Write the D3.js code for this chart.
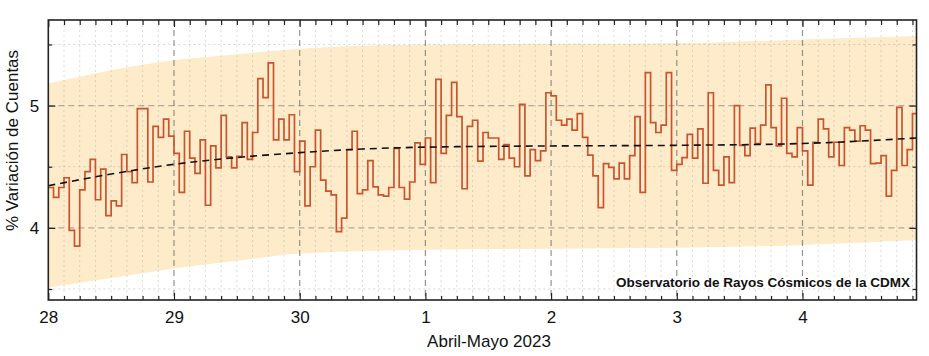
<!DOCTYPE html>
<html><head><meta charset="utf-8">
<script src="https://cdn.jsdelivr.net/npm/d3@7"></script>
<style>
body{margin:0;background:#fff;}
svg{display:block;font-family:"Liberation Sans",Arial,sans-serif;}
</style>
</head><body>
<svg id="c" width="929" height="356"></svg>
<script>
// ---- data ----
const startDate = Date.UTC(2023, 3, 28, 0, 0);   // 28 Abril 2023 00:00
const hourMs = 3600e3;
const endHours = 165.77;                          // visible extent of time axis (hours)
const xTitle = "Abril-Mayo 2023";
const yTitle = "% Variación de Cuentas";
const note = "Observatorio de Rayos Cósmicos de la CDMX";
const yMajorTicks = [4, 5];
const yMinorTicks = [3.5, 4.5, 5.5];

// hourly values (% variación)
const counts = [
  4.33,4.25,4.33,4.41,3.98,3.85,4.31,4.46,4.56,4.23,4.48,4.10,
  4.22,4.18,4.60,4.46,4.37,4.975,4.975,4.375,4.83,4.74,4.89,4.75,
  4.61,4.29,4.79,4.57,4.445,4.72,4.185,4.67,4.49,4.92,4.58,4.49,
  4.585,4.86,4.56,4.78,5.22,5.065,5.35,4.72,4.89,4.72,4.925,4.46,
  4.71,4.18,4.50,4.80,4.39,4.30,4.27,3.97,4.08,4.64,4.79,4.28,
  4.31,4.55,4.335,4.27,4.26,4.33,4.65,4.33,4.235,4.375,4.695,4.52,
  4.735,4.37,5.215,4.61,4.92,5.19,4.91,4.32,4.83,4.88,4.545,4.78,
  4.735,4.735,4.56,4.68,4.57,4.50,5.01,4.425,4.64,4.55,4.63,5.105,
  5.08,4.88,4.84,4.89,4.80,4.935,4.74,4.595,4.425,4.165,4.525,4.495,
  4.40,4.53,4.40,4.59,4.91,4.29,5.27,4.86,4.78,4.84,5.27,4.47,
  4.52,4.575,4.765,4.57,4.81,4.365,5.105,4.47,4.35,4.58,4.37,5.0,
  4.675,4.59,4.815,4.69,4.84,5.17,4.82,4.67,5.06,4.61,4.58,4.82,
  4.63,4.35,4.70,4.89,4.81,4.58,4.70,4.51,4.82,4.80,4.71,4.835,
  4.80,4.525,4.53,4.59,4.26,4.47,4.985,4.51,4.64,4.935
];

// band (upper/lower envelope) and trend, sampled in hours from start
const bandHours = [0, 12, 24, 36, 48, 72, 96, 120, 144, 165.77];
const bandUpper = [5.18, 5.29, 5.37, 5.42, 5.465, 5.50, 5.505, 5.51, 5.54, 5.57];
const bandLower = [3.513, 3.59, 3.668, 3.73, 3.79, 3.82, 3.83, 3.837, 3.86, 3.90];
const trendHours = [0, 12, 24, 36, 48, 60, 72, 96, 120, 144, 165.77];
const trendValues = [4.345, 4.44, 4.52, 4.575, 4.615, 4.645, 4.66, 4.67, 4.675, 4.69, 4.735];

// ---- chart ----
const svg = d3.select("#c");
const M = {l: 48.3, t: 20, r: 916.5, b: 300};
const t0 = new Date(startDate), t1 = new Date(startDate + endHours * hourMs);
const x = d3.scaleUtc().domain([t0, t1]).range([M.l, M.r]);
const y = d3.scaleLinear().domain([3.41, 5.70]).range([M.b, M.t]);
const hx = h => x(new Date(startDate + h * hourMs));

svg.append("defs").append("clipPath").attr("id", "clip")
  .append("rect").attr("x", M.l).attr("y", M.t).attr("width", M.r - M.l).attr("height", M.b - M.t);

const plot = svg.append("g").attr("clip-path", "url(#clip)");

// band
const bandData = bandHours.map((h, i) => ({h, lo: bandLower[i], hi: bandUpper[i]}));
plot.append("path").datum(bandData)
  .attr("fill", "#fdebc9")
  .attr("d", d3.area().x(d => hx(d.h)).y0(d => y(d.lo)).y1(d => y(d.hi)).curve(d3.curveMonotoneX));

// grid
const days = d3.utcDay.range(t0, t1);
const minor3h = d3.utcHour.every(3).range(t0, t1).filter(d => d.getUTCHours() !== 0);
const grid = plot.append("g");
grid.selectAll(".vmin").data(minor3h).join("line")
  .attr("x1", d => x(d)).attr("x2", d => x(d)).attr("y1", M.t).attr("y2", M.b)
  .attr("stroke", "#9a9a9a").attr("stroke-opacity", 0.35).attr("stroke-width", 1).attr("stroke-dasharray", "2,3");
grid.selectAll(".hmin").data(yMinorTicks).join("line")
  .attr("x1", M.l).attr("x2", M.r).attr("y1", d => y(d)).attr("y2", d => y(d))
  .attr("stroke", "#9a9a9a").attr("stroke-opacity", 0.4).attr("stroke-width", 1).attr("stroke-dasharray", "2,3");
grid.selectAll(".hmaj").data(yMajorTicks).join("line")
  .attr("x1", M.l).attr("x2", M.r).attr("y1", d => y(d)).attr("y2", d => y(d))
  .attr("stroke", "#808080").attr("stroke-opacity", 0.6).attr("stroke-width", 1.1).attr("stroke-dasharray", "6,4");
grid.selectAll(".vmaj").data(days.slice(1)).join("line")
  .attr("x1", d => x(d)).attr("x2", d => x(d)).attr("y1", M.t).attr("y2", M.b)
  .attr("stroke", "#707070").attr("stroke-opacity", 0.75).attr("stroke-width", 1.2).attr("stroke-dasharray", "6,4");

// step series
const pts = counts.map((v, i) => ({t: new Date(startDate + i * hourMs), v}));
pts.push({t: new Date(startDate + counts.length * hourMs), v: counts[counts.length - 1]});
plot.append("path").datum(pts)
  .attr("fill", "none").attr("stroke", "#c8552e").attr("stroke-width", 1.7)
  .attr("d", d3.line().x(d => x(d.t)).y(d => y(d.v)).curve(d3.curveStepAfter));

// trend
plot.append("path").datum(trendHours.map((h, i) => ({h, v: trendValues[i]})))
  .attr("fill", "none").attr("stroke", "#111").attr("stroke-width", 1.6).attr("stroke-dasharray", "7,5")
  .attr("d", d3.line().x(d => hx(d.h)).y(d => y(d.v)).curve(d3.curveMonotoneX));

// axes
function styleAxis(g) {
  g.select(".domain").remove();
  g.selectAll(".tick line").attr("stroke", "#222").attr("stroke-width", 1.2);
  g.selectAll("text").attr("font-size", 17).attr("fill", "#111")
    .attr("font-family", "'Liberation Sans', Arial, sans-serif");
}
svg.append("g").attr("transform", `translate(0,${M.b})`)
  .call(d3.axisBottom(x).tickValues(minor3h).tickSize(-4).tickFormat("")).call(styleAxis);
svg.append("g").attr("transform", `translate(0,${M.b})`)
  .call(d3.axisBottom(x).tickValues(days).tickSize(-7).tickPadding(11).tickFormat(d3.utcFormat("%-d"))).call(styleAxis);
svg.append("g").attr("transform", `translate(0,${M.t})`)
  .call(d3.axisTop(x).tickValues(minor3h).tickSize(-5).tickFormat("")).call(styleAxis);
svg.append("g").attr("transform", `translate(0,${M.t})`)
  .call(d3.axisTop(x).tickValues(days).tickSize(-7).tickFormat("")).call(styleAxis);
svg.append("g").attr("transform", `translate(${M.l},0)`)
  .call(d3.axisLeft(y).tickValues(yMinorTicks).tickSize(-4).tickFormat("")).call(styleAxis);
svg.append("g").attr("transform", `translate(${M.l},0)`)
  .call(d3.axisLeft(y).tickValues(yMajorTicks).tickSize(-7).tickPadding(9).tickFormat(d3.format("d"))).call(styleAxis);
svg.append("g").attr("transform", `translate(${M.r},0)`)
  .call(d3.axisRight(y).tickValues(yMinorTicks).tickSize(-4).tickFormat("")).call(styleAxis);
svg.append("g").attr("transform", `translate(${M.r},0)`)
  .call(d3.axisRight(y).tickValues(yMajorTicks).tickSize(-7).tickFormat("")).call(styleAxis);

// frame
svg.append("rect").attr("x", M.l).attr("y", M.t).attr("width", M.r - M.l).attr("height", M.b - M.t)
  .attr("fill", "none").attr("stroke", "#222").attr("stroke-width", 1.6);

// titles
svg.append("text").attr("x", 489).attr("y", 347).attr("text-anchor", "middle")
  .attr("font-size", 17).attr("fill", "#111").text(xTitle);
svg.append("text").attr("transform", "translate(17.5,140.5) rotate(-90)").attr("text-anchor", "middle")
  .attr("font-size", 17).attr("fill", "#111").text(yTitle);
svg.append("text").attr("x", 910).attr("y", 286.5).attr("text-anchor", "end")
  .attr("font-size", 13.5).attr("font-weight", "bold").attr("fill", "#111").text(note);
</script>
</body></html>
